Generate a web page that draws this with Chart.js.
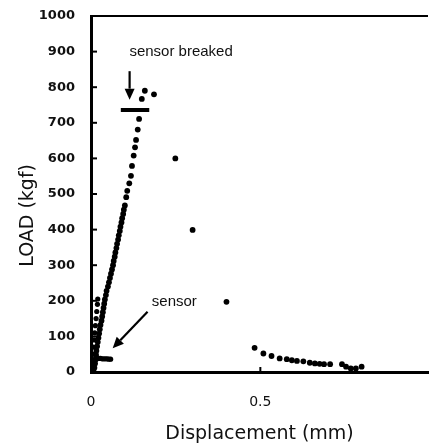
<!DOCTYPE html>
<html>
<head>
<meta charset="utf-8">
<script src="https://cdn.jsdelivr.net/npm/chart.js@4.4.1/dist/chart.umd.min.js"></script>
<style>
    html, body { margin: 0; padding: 0; background: #fff; }
</style>
</head>
<body>
<canvas id="loadChart" width="432" height="446"></canvas>
<script>
// Main load / displacement curve (mm, kgf)
const mainDisp = [0.008, 0.010, 0.012, 0.013, 0.015, 0.016, 0.018, 0.020, 0.022, 0.024,
    0.026, 0.028, 0.031, 0.033, 0.035, 0.037, 0.039, 0.041, 0.044, 0.046,
    0.050, 0.053, 0.056, 0.059, 0.062, 0.065, 0.067, 0.070, 0.072, 0.075,
    0.077, 0.080, 0.082, 0.085, 0.087, 0.090, 0.092, 0.095, 0.097, 0.100,
    0.104, 0.107, 0.113, 0.118, 0.121, 0.126, 0.130, 0.133, 0.138, 0.142,
    0.150, 0.159, 0.186,
    0.249, 0.300, 0.400,
    0.483, 0.509, 0.533, 0.557, 0.578, 0.593, 0.608, 0.627, 0.646, 0.661,
    0.675, 0.688, 0.706, 0.741, 0.753, 0.767, 0.782, 0.799];
const mainLoad = [0, 12, 24, 36, 48, 60, 72, 84, 96, 108,
    120, 132, 144, 156, 168, 180, 192, 204, 216, 228,
    240, 252, 264, 276, 288, 300, 312, 324, 336, 348,
    360, 372, 384, 396, 408, 420, 432, 444, 456, 468,
    491, 509, 530, 551, 579, 608, 631, 652, 681, 711,
    767, 790, 780,
    600, 399, 197,
    68, 52, 45, 38, 36, 33, 31, 30, 26, 24,
    23, 22, 22, 22, 15, 10, 10, 15];

// Strain sensor readings
const sensorDisp = [0.001, 0.003, 0.005, 0.007, 0.009, 0.011, 0.013, 0.015, 0.017, 0.019, 0.020,
    0.003, 0.008, 0.013, 0.018, 0.023, 0.028, 0.033, 0.038, 0.043, 0.048, 0.053, 0.058];
const sensorLoad = [10, 30, 50, 70, 90, 110, 130, 150, 170, 190, 205,
    25, 30, 34, 37, 38, 38, 37, 37, 37, 37, 36, 36];

// Level where the sensor broke
const breakDisp = [0.088, 0.172];
const breakLoad = [736, 736];

const xTickValues = [0, 0.5];
const yTickValues = [0, 100, 200, 300, 400, 500, 600, 700, 800, 900, 1000];

// Notes and arrows, in data units
const notes = [
    { text: 'sensor breaked', x: 0.266, y: 899 },
    { text: 'sensor', x: 0.246, y: 197 }
];
const arrows = [
    { x1: 0.114, y1: 845, x2: 0.114, y2: 765 },
    { x1: 0.167, y1: 169, x2: 0.064, y2: 67 }
];

function toPoints(xs, ys) {
    return xs.map((x, i) => ({ x: x, y: ys[i] }));
}

const frame = {
    id: 'frame',
    afterDatasetsDraw(chart) {
        const ctx = chart.ctx;
        const area = chart.chartArea;
        const xs = chart.scales.x;
        const ys = chart.scales.y;
        ctx.save();
        ctx.strokeStyle = '#000';
        // top line
        ctx.lineWidth = 2;
        ctx.beginPath();
        ctx.moveTo(area.left, area.top);
        ctx.lineTo(area.right, area.top);
        ctx.stroke();
        // inner ticks
        yTickValues.forEach(v => {
            const py = ys.getPixelForValue(v);
            ctx.beginPath();
            ctx.moveTo(area.left, py);
            ctx.lineTo(area.left + 6, py);
            ctx.stroke();
        });
        xTickValues.concat([1]).forEach(v => {
            const px = xs.getPixelForValue(v);
            if (px > area.right) return;
            ctx.beginPath();
            ctx.moveTo(px, area.bottom);
            ctx.lineTo(px, area.bottom - 5);
            ctx.stroke();
        });
        // arrows
        arrows.forEach(a => {
            const x1 = xs.getPixelForValue(a.x1), y1 = ys.getPixelForValue(a.y1);
            const x2 = xs.getPixelForValue(a.x2), y2 = ys.getPixelForValue(a.y2);
            const ang = Math.atan2(y2 - y1, x2 - x1);
            const head = 11, half = 5;
            const bx = x2 - head * Math.cos(ang), by = y2 - head * Math.sin(ang);
            ctx.lineWidth = 2.2;
            ctx.beginPath();
            ctx.moveTo(x1, y1);
            ctx.lineTo(bx, by);
            ctx.stroke();
            ctx.fillStyle = '#000';
            ctx.beginPath();
            ctx.moveTo(x2, y2);
            ctx.lineTo(bx + half * Math.sin(ang), by - half * Math.cos(ang));
            ctx.lineTo(bx - half * Math.sin(ang), by + half * Math.cos(ang));
            ctx.closePath();
            ctx.fill();
        });
        // notes
        ctx.fillStyle = '#111';
        ctx.font = '15px "Liberation Sans", Arial, sans-serif';
        ctx.textAlign = 'center';
        ctx.textBaseline = 'middle';
        notes.forEach(n => {
            ctx.fillText(n.text, xs.getPixelForValue(n.x), ys.getPixelForValue(n.y));
        });
        // y axis title, sits a bit below the middle
        ctx.font = '19px "DejaVu Sans"';
        ctx.translate(28, ys.getPixelForValue(440));
        ctx.rotate(-Math.PI / 2);
        ctx.fillText('LOAD (kgf)', 0, 0);
        ctx.restore();
    }
};

const ctx = document.getElementById('loadChart').getContext('2d');
const loadChart = new Chart(ctx, {
    type: 'scatter',
    data: {
        datasets: [
            {
                label: 'Load',
                data: toPoints(mainDisp, mainLoad),
                backgroundColor: '#000',
                pointRadius: 2.9,
                pointBorderWidth: 0
            },
            {
                label: 'Sensor',
                data: toPoints(sensorDisp, sensorLoad),
                backgroundColor: '#000',
                pointRadius: 2.6,
                pointBorderWidth: 0
            },
            {
                label: 'Break',
                data: toPoints(breakDisp, breakLoad),
                showLine: true,
                borderColor: '#000',
                borderWidth: 4,
                pointRadius: 0
            }
        ]
    },
    options: {
        responsive: false,
        animation: false,
        layout: { padding: { top: 16, right: 1, left: 0, bottom: 0 } },
        plugins: {
            legend: { display: false },
            tooltip: { enabled: false }
        },
        scales: {
            x: {
                type: 'linear',
                min: 0,
                max: 0.995,
                afterFit: s => { s.height = 74; },
                afterBuildTicks: s => { s.ticks = xTickValues.map(v => ({ value: v })); },
                grid: { display: false },
                border: { display: true, color: '#000', width: 3 },
                ticks: {
                    color: '#111',
                    font: { family: '"DejaVu Sans"', size: 14 },
                    padding: 14,
                    callback: v => String(v)
                },
                title: {
                    display: true,
                    text: 'Displacement (mm)',
                    color: '#111',
                    font: { family: '"DejaVu Sans"', size: 19 },
                    padding: { top: 0, bottom: 1 }
                }
            },
            y: {
                type: 'linear',
                min: 0,
                max: 1000,
                afterFit: s => { s.width = 91; },
                afterBuildTicks: s => { s.ticks = yTickValues.map(v => ({ value: v })); },
                grid: { display: false },
                border: { display: true, color: '#000', width: 3 },
                ticks: {
                    color: '#111',
                    font: { family: '"DejaVu Sans"', size: 13, weight: 'bold' },
                    padding: 8,
                    callback: v => String(v)
                },
                title: { display: false }
            }
        }
    },
    plugins: [frame]
});
</script>
</body>
</html>
